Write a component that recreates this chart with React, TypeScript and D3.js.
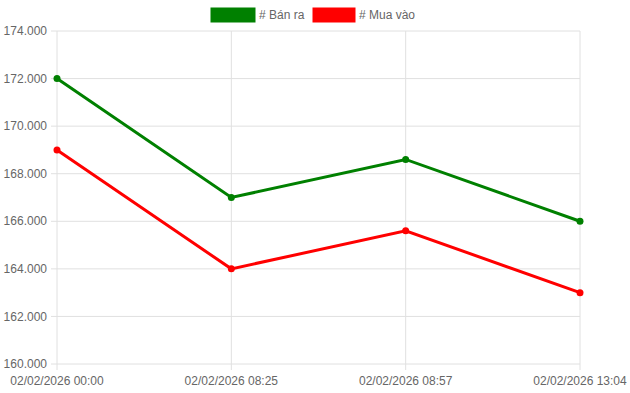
import React from "react";
import * as d3 from "d3";

const categories = ["02/02/2026 00:00", "02/02/2026 08:25", "02/02/2026 08:57", "02/02/2026 13:04"];
const banRa = [172, 167, 168.6, 166];
const muaVao = [169, 164, 165.6, 163];
const yTicks = [160, 162, 164, 166, 168, 170, 172, 174];
const seriesNames = ["# Bán ra", "# Mua vào"];
const seriesColors = ["#008000", "#ff0000"];

export default function App() {
  const W = 630, H = 393;
  const left = 57, right = 580, top = 31, bottom = 364;
  const x = d3.scalePoint<string>().domain(categories).range([left, right]);
  const y = d3.scaleLinear().domain([160, 174]).range([bottom, top]);
  const line = d3.line<number>().x((_, i) => x(categories[i])!).y((d) => y(d));
  const fmt = (v: number) => d3.format(",.3f")(v).replace(/,/g, "#").replace(/\./g, ",").replace(/#/g, ".").replace(/,000$/, "") ;
  const label = (v: number) => `${v}.000`;
  const font = "Helvetica, Arial, 'Liberation Sans', sans-serif";
  const series = [banRa, muaVao];
  return (
    <svg width={W} height={H} style={{ position: "absolute", left: 0, top: 0 }} fontFamily={font}>
      {yTicks.map((t) => (
        <g key={t}>
          <line x1={left - 6} x2={right} y1={y(t)} y2={y(t)} stroke="#e0e0e0" strokeWidth={1} />
          <text x={left - 10} y={y(t)} dy="0.35em" textAnchor="end" fontSize={12} fill="#666">{label(t)}</text>
        </g>
      ))}
      {categories.map((c) => (
        <g key={c}>
          <line x1={x(c)} x2={x(c)} y1={top} y2={bottom + 6} stroke="#e0e0e0" strokeWidth={1} />
          <text x={x(c)} y={bottom + 21} textAnchor="middle" fontSize={12} fill="#666">{c}</text>
        </g>
      ))}
      {series.map((s, si) => (
        <g key={si}>
          <path d={line(s) || ""} fill="none" stroke={seriesColors[si]} strokeWidth={3} />
          {s.map((v, i) => (
            <circle key={i} cx={x(categories[i])} cy={y(v)} r={3.5} fill={seriesColors[si]} />
          ))}
        </g>
      ))}
      <g>
        <rect x={211} y={8} width={44} height={14} fill={seriesColors[0]} stroke={seriesColors[0]} />
        <text x={259} y={15} dy="0.35em" fontSize={12} fill="#666">{seriesNames[0]}</text>
        <rect x={313} y={8} width={42} height={14} fill={seriesColors[1]} stroke={seriesColors[1]} />
        <text x={359} y={15} dy="0.35em" fontSize={12} fill="#666">{seriesNames[1]}</text>
      </g>
    </svg>
  );
}
